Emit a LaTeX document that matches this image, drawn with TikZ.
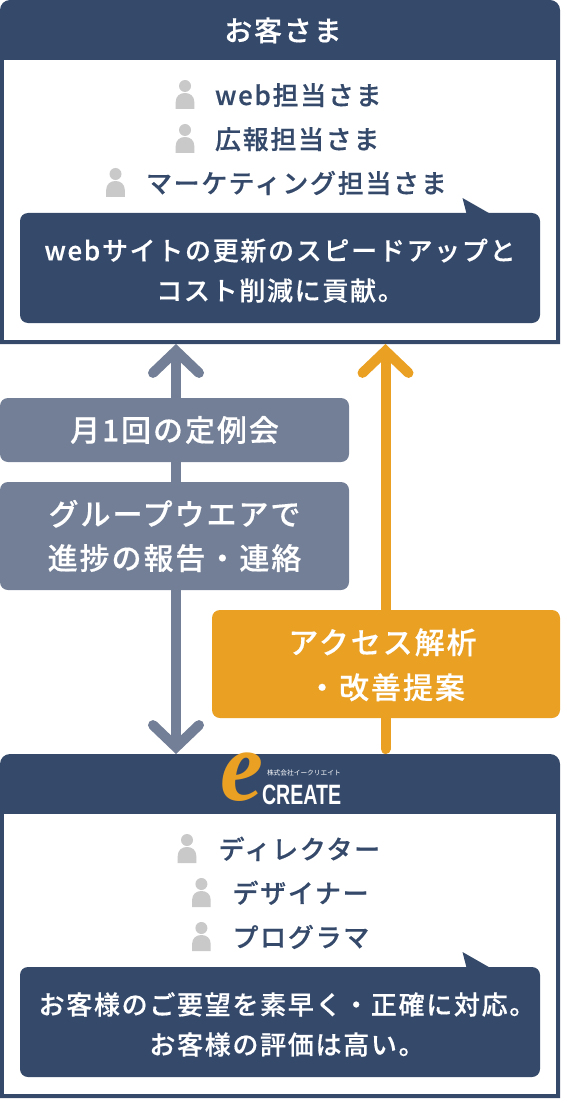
\documentclass[tikz,border=0pt]{standalone}
\usepackage{fontspec}
\usepackage{xcolor}
\setmainfont{Noto Sans CJK JP}
\newfontfamily\jpfont[LetterSpace=6.5,FakeBold=0.4]{Noto Sans CJK JP Medium}
\newfontfamily\logofont{Liberation Sans}
\newfontfamily\subfont{Noto Sans CJK JP}
\newfontfamily\efont{Liberation Serif}
\newcommand{\lift}{\rule{0pt}{27pt}}
\definecolor{navy}{HTML}{354A6B}
\definecolor{slate}{HTML}{737F96}
\definecolor{amber}{HTML}{E9A023}
\definecolor{figure}{HTML}{C9C9C9}
\usetikzlibrary{arrows.meta,positioning}

\begin{document}
\begin{tikzpicture}[
  x=1pt, y=-1pt,
  every node/.style={inner sep=0pt, outer sep=0pt},
  panel/.style  ={fill=white, minimum width=552pt},
  anchorbox/.style={minimum width=560pt, minimum height=344pt},
  head/.style   ={text=white, font=\jpfont\fontsize{28}{34}\selectfont, text height=24pt, text depth=2pt},
  who/.style    ={anchor=west, text=navy, font=\jpfont\fontsize{26}{32}\selectfont, text height=23pt, text depth=3pt},
  bubble/.style ={fill=navy, rounded corners=8pt, minimum width=520pt, minimum height=110pt,
                  text=white, align=center, font=\jpfont\fontsize{26}{40}\selectfont},
  graybox/.style={fill=slate, rounded corners=8pt, minimum width=349pt,
                  text=white, align=center, font=\jpfont\fontsize{30}{44}\selectfont},
  ambbox/.style ={fill=amber, rounded corners=8pt, minimum width=348pt, minimum height=108pt,
                  text=white, align=center, font=\jpfont\fontsize{30}{45}\selectfont},
  grayarr/.style={{Straight Barb[length=22pt,width=46pt,line cap=round,line join=miter]}-{Straight Barb[length=22pt,width=46pt,line cap=round,line join=miter]},
                  slate, line width=10pt},
  amberarr/.style={-{Straight Barb[length=22pt,width=46pt,line cap=round,line join=miter]},
                  amber, line width=10pt, line cap=round, shorten <=5pt},
  person/.pic={
    \fill[figure] (0,0) circle (6pt);
    \fill[figure] (-9.3,23) -- (-9.3,16) .. controls (-9.3,10) and (-5,7) .. (0,7)
                  .. controls (5,7) and (9.3,10) .. (9.3,16) -- (9.3,23) -- cycle;
  },
]
  \useasboundingbox (0,0) rectangle (560,1099);

  % frames
  \fill[navy] (0,344) {[rounded corners=10pt] -- (0,0) -- (560,0)} -- (560,344) -- cycle;
  \fill[navy] (0,1098) {[rounded corners=10pt] -- (0,754) -- (560,754)} -- (560,1098) -- cycle;
  \node[anchorbox] (custBox) at (280,172)  {};
  \node[anchorbox] (ecBox)   at (280,926)  {};
  \node[panel, minimum height=280pt] (custPanel) at (280,200)  {};
  \node[panel, minimum height=280pt] (ecPanel)   at (280,954)  {};
  \coordinate (grayLine)  at (176,0);
  \coordinate (amberLine) at (385.5,0);

  % connectors
  \draw[grayarr]  (custBox.south -| grayLine)  -- (ecBox.north -| grayLine);
  \draw[amberarr] (ecBox.north -| amberLine) -- (custBox.south -| amberLine);

  % customer side
  \node[head] (custHead) at (283,30) {お客さま};
  \pic at (185,86)  {person};
  \pic at (185,130) {person};
  \pic at (115.5,174) {person};
  \node[who] (webWho)  at (215,95)  {web担当さま};
  \node[who] (prWho)   at (215,139) {広報担当さま};
  \node[who] (mktWho)  at (146,183) {マーケティング担当さま};
  \fill[navy] (462.5,198) -- (466.6,214) -- (490.5,214) -- cycle;
  \node[bubble] (custNote) at (280,268) {\lift webサイトの更新のスピードアップと\\コスト削減に貢献。};

  % middle labels
  \node[graybox, minimum height=64pt]  (meetBox)  at (174.5,430) {月1回の定例会};
  \node[graybox, minimum height=108pt] (groupBox) at (174.5,536) {グループウエアで\\進捗の報告・連絡};
  \node[ambbox] (accessBox) at (386,664) {\lift\hspace*{-7pt}アクセス解析\\・改善提案};

  % company side
  \node[text=amber, font=\efont\bfseries\itshape\fontsize{88}{88}\selectfont, transform shape, xscale=1.1, yscale=1.15] (logoE) at (242,777) {e};
  \node[text=white, font=\subfont\fontsize{6.7}{7}\selectfont, anchor=west] (logoSub) at (267,773) {株式会社イークリエイト};
  \node[text=white, font=\logofont\bfseries\fontsize{28}{28}\selectfont, transform shape, xscale=.7, anchor=west] (logoName) at (262,795) {CREATE};
  \pic at (187,840) {person};
  \pic at (201.4,884) {person};
  \pic at (201.4,928) {person};
  \node[who] (dirWho) at (218.6,849) {ディレクター};
  \node[who] (desWho) at (232.5,893) {デザイナー};
  \node[who] (prgWho) at (232.5,937) {プログラマ};
  \fill[navy] (462.5,952) -- (466.6,968) -- (490.5,968) -- cycle;
  \node[bubble] (ecNote) at (280,1022) {\lift\hspace*{14pt}お客様のご要望を素早く・正確に対応。\\\hspace*{14pt}お客様の評価は高い。};
\end{tikzpicture}
\end{document}
